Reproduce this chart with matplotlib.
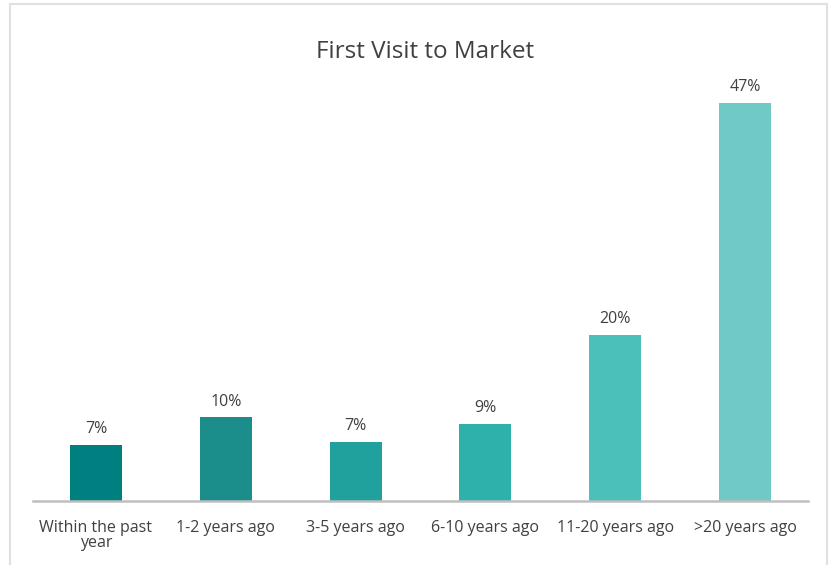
import matplotlib.pyplot as plt
from matplotlib.patches import Rectangle

plt.rcParams['font.family'] = ['Open Sans', 'DejaVu Sans']

categories = ['Within the past\nyear', '1-2 years ago', '3-5 years ago',
              '6-10 years ago', '11-20 years ago', '>20 years ago']
shares = [6.6, 9.9, 7.0, 9.1, 19.6, 47.0]
bar_colors = ['#007F80', '#1B8E8B', '#20A19D', '#2EB0AB', '#4BC0BA', '#71C9C6']
text_color = '#404040'

W, H = 835, 565
fig = plt.figure(figsize=(W / 100, H / 100), dpi=100)

# light frame around the whole chart (open at the bottom)
fig.patches.append(Rectangle((9.5 / W, -0.05), (826.5 - 9.5) / W, 1.05 - 3.5 / H,
                             transform=fig.transFigure, fill=False,
                             edgecolor='#E0E0E0', linewidth=1.5))

ax = fig.add_axes([33 / W, 64 / H, 775 / W, 423 / H])
x = range(len(categories))
bars = ax.bar(x, shares, width=0.4, color=bar_colors)

for b, v in zip(bars, shares):
    ax.annotate(f'{round(v):d}%', (b.get_x() + b.get_width() / 2, v),
                xytext=(0, 5.5), textcoords='offset points',
                ha='center', va='bottom', fontsize=11.5, color=text_color)

ax.set_xlim(-0.485, 5.485)
ax.set_ylim(0, 423 / (398 / 47.0))
ax.set_xticks(list(x))
ax.set_xticklabels(categories, fontsize=11.5, color=text_color, linespacing=0.9)
ax.tick_params(axis='x', length=0, pad=14)
ax.set_yticks([])
for side in ['top', 'right', 'left']:
    ax.spines[side].set_visible(False)
ax.spines['bottom'].set_color('#BFBFBF')
ax.spines['bottom'].set_linewidth(1.8)

fig.text(425 / W, 1 - 52 / H, 'First Visit to Market', ha='center', va='center',
         fontsize=17.5, color=text_color)

fig.savefig('out.png', dpi=100)
